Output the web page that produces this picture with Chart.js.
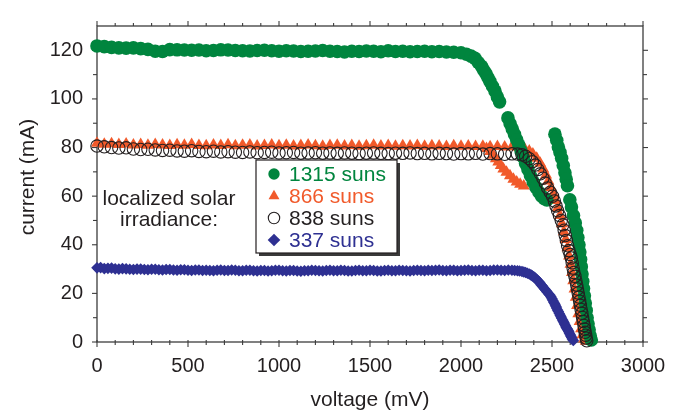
<!DOCTYPE html>
<html>
<head>
<meta charset="utf-8">
<script src="https://cdn.jsdelivr.net/npm/chart.js@4/dist/chart.umd.min.js"></script>
<style>
  html, body { margin: 0; padding: 0; background: #fff; }
  #wrap { width: 681px; height: 414px; }
</style>
</head>
<body>
<div id="wrap"><canvas id="chart" width="681" height="414"></canvas></div>
<script>
const ctx = document.getElementById('chart').getContext('2d');

// tick labels
const voltageTicks = [0, 500, 1000, 1500, 2000, 2500, 3000];
const currentTicks = [0, 20, 40, 60, 80, 100, 120];

// [voltage mV, current mA]
const suns1315 = [
  [0,121.8],[40,121.5],[80,121.2],[120,121.0],[160,120.9],[200,121.0],[240,120.7],[280,120.4],[320,119.6],[360,119.5],
  [400,120.3],[440,120.2],[480,120.1],[520,120.0],[560,120.1],[600,119.8],[640,119.9],[680,120.2],[720,120.1],[760,119.9],
  [800,119.8],[840,119.7],[880,119.9],[920,120.0],[960,119.8],[1000,119.6],[1040,119.8],[1080,119.7],[1120,119.5],[1160,119.6],
  [1200,119.7],[1240,119.9],[1280,119.6],[1320,119.5],[1360,119.3],[1400,119.6],[1440,119.5],[1480,119.7],[1520,119.6],[1560,119.4],
  [1600,119.8],[1640,119.5],[1680,119.6],[1720,119.4],[1760,119.5],[1800,119.6],[1840,119.4],[1880,119.5],[1920,119.3],[1960,119.2],
  [2000,119.0],[2030,118.4],[2055,117.6],[2077,116.7],[2095,115.0],[2113,113.4],[2125,111.8],[2137,110.4],[2148,108.8],[2159,107.2],
  [2173,105.2],[2187,103.2],[2200,100.8],[2212,98.8],[2258,92.2],[2270,89.8],[2282,87.6],[2294,85.4],[2306,83.2],[2318,81.0],
  [2330,78.6],[2342,76.0],[2355,73.4],[2368,71.0],[2382,68.4],[2397,65.8],[2412,63.6],[2428,61.6],[2443,60.0],[2458,59.0],
  [2472,58.4],[2516,85.5],[2526,83.0],[2535,80.2],[2544,78.0],[2553,75.6],[2562,72.6],[2571,69.6],[2578,67.0],[2585,64.3],
  [2598,58.5],[2607,55.5],[2618,52.0],[2628,49.0],[2636,46.0],[2642,43.0],[2648,40.0],[2653,37.0],[2657,34.0],[2661,31.0],
  [2665,28.0],[2669,25.0],[2673,22.0],[2678,19.0],[2683,16.0],[2688,13.0],[2693,10.0],[2698,7.5],[2704,5.0],[2710,2.5],[2716,0.8]
];

const suns866 = [
  [0,81.8],[40,81.4],[80,81.6],[120,81.2],[160,81.5],[200,81.0],[240,81.3],[280,80.9],[320,81.2],[360,81.0],
  [400,80.8],[440,81.1],[480,80.9],[520,81.2],[560,80.8],[600,80.7],[640,81.0],[680,80.8],[720,81.1],[760,80.7],
  [800,80.9],[840,81.0],[880,80.6],[920,80.8],[960,81.0],[1000,80.7],[1040,80.9],[1080,80.6],[1120,80.8],[1160,81.0],
  [1200,80.7],[1240,80.5],[1280,80.8],[1320,80.9],[1360,80.6],[1400,80.8],[1440,80.5],[1480,80.7],[1520,80.9],[1560,80.6],
  [1600,80.8],[1640,80.5],[1680,80.7],[1720,80.6],[1760,80.8],[1800,80.5],[1840,80.7],[1880,80.6],[1920,80.4],[1960,80.7],
  [2000,80.5],[2040,80.6],[2080,80.4],[2120,80.5],[2160,80.3],[2200,80.4],[2240,80.2],[2280,80.3],
  [2140,79.6],[2160,78.4],[2178,76.8],[2192,75.4],[2205,74.0],[2219,72.6],[2233,71.2],[2250,69.8],[2269,68.4],[2288,67.0],
  [2306,65.8],[2325,64.9],[2345,64.2],
  [2320,80.0],[2350,79.4],[2375,78.6],[2395,77.3],[2416,75.6],[2435,73.5],[2452,71.2],[2467,68.7],[2480,66.2],[2494,63.6],
  [2507,61.0],[2520,58.2],[2532,55.2],[2544,52.0],[2555,48.6],[2565,45.4],[2575,42.2],[2585,38.8],[2594,35.4],[2602,32.0],
  [2610,28.6],[2617,25.2],[2624,21.8],[2631,18.4],[2638,15.0],[2645,11.6],[2652,8.4],[2660,5.4],[2668,3.0],[2677,1.2],[2686,0.3]
];

const suns838 = [
  [0,80.6],[40,80.3],[80,80.0],[120,79.8],[160,79.9],[200,79.4],[240,79.2],[280,79.3],[320,79.0],[360,78.8],
  [400,78.9],[440,78.6],[480,78.5],[520,78.7],[560,78.4],[600,78.3],[640,78.5],[680,78.2],[720,78.3],[760,78.1],
  [800,78.0],[840,78.2],[880,77.9],[920,78.0],[960,78.1],[1000,77.8],[1040,77.9],[1080,78.0],[1120,77.7],[1160,77.8],
  [1200,77.9],[1240,77.7],[1280,77.8],[1320,77.6],[1360,77.8],[1400,77.7],[1440,77.5],[1480,77.7],[1520,77.8],[1560,77.6],
  [1600,77.5],[1640,77.7],[1680,77.6],[1720,77.8],[1760,77.5],[1800,77.6],[1840,77.4],[1880,77.6],[1920,77.5],[1960,77.3],
  [2000,77.5],[2040,77.4],[2080,77.6],[2120,77.3],[2160,77.5],[2200,77.4],[2240,77.2],[2280,77.4],
  [2310,77.3],[2335,77.0],[2355,76.4],[2375,75.4],[2392,74.2],[2408,72.8],[2422,71.0],[2436,69.2],[2450,67.4],[2463,65.4],
  [2476,63.4],[2490,61.6],[2503,60.0],[2513,58.0],[2522,56.0],[2531,54.0],[2541,52.0],[2551,50.0],[2560,48.2],[2567,46.0],
  [2573,43.8],[2579,41.8],[2586,39.6],[2593,37.6],[2600,36.0],[2606,34.6],[2611,32.6],[2616,30.4],[2620,28.6],[2626,27.0],
  [2631,25.2],[2636,23.4],[2640,21.8],[2644,20.2],[2648,18.5],[2652,16.8],[2656,15.1],[2660,13.4],[2664,11.8],[2668,10.1],
  [2672,8.4],[2676,6.8],[2679,5.3],[2682,4.0],[2685,2.8],[2688,1.6],[2691,0.5]
];

const suns337 = [
  [0,30.5],[20,30.6],[40,30.2],[60,30.3],[80,30.4],[100,30.1],[120,30.0],[140,30.2],[160,30.1],[180,29.9],
  [200,29.8],[220,30.0],[240,30.0],[260,29.8],[280,29.7],[300,29.9],[320,29.9],[340,29.7],[360,29.6],[380,29.8],
  [400,29.8],[420,29.6],[440,29.5],[460,29.7],[480,29.7],[500,29.5],[520,29.4],[540,29.6],[560,29.6],[580,29.4],
  [600,29.5],[620,29.4],[640,29.3],[660,29.5],[680,29.6],[700,29.4],[720,29.4],[740,29.6],[760,29.5],[780,29.3],
  [800,29.3],[820,29.5],[840,29.5],[860,29.3],[880,29.2],[900,29.4],[920,29.4],[940,29.2],[960,29.3],[980,29.5],
  [1000,29.5],[1020,29.3],[1040,29.2],[1060,29.4],[1080,29.4],[1100,29.2],[1120,29.1],[1140,29.3],[1160,29.3],[1180,29.5],
  [1200,29.4],[1220,29.3],[1240,29.2],[1260,29.4],[1280,29.5],[1300,29.3],[1320,29.3],[1340,29.5],[1360,29.4],[1380,29.2],
  [1400,29.2],[1420,29.4],[1440,29.5],[1460,29.3],[1480,29.3],[1500,29.5],[1520,29.4],[1540,29.2],[1560,29.2],[1580,29.4],
  [1600,29.5],[1620,29.3],[1640,29.3],[1660,29.5],[1680,29.4],[1700,29.3],[1720,29.2],[1740,29.4],[1760,29.5],[1780,29.4],
  [1800,29.3],[1820,29.5],[1840,29.4],[1860,29.5],[1880,29.6],[1900,29.4],[1920,29.3],[1940,29.5],[1960,29.5],[1980,29.3],
  [2000,29.4],[2020,29.5],[2040,29.6],[2060,29.4],[2080,29.3],[2100,29.5],[2120,29.5],[2140,29.3],[2160,29.4],[2180,29.6],
  [2200,29.6],[2220,29.5],[2240,29.4],[2260,29.6],[2280,29.5],[2295,29.4],
  [2310,29.3],[2322,29.2],[2335,29.0],[2345,28.8],[2355,28.6],[2365,28.3],[2375,28.0],[2384,27.6],[2392,27.2],[2400,26.8],
  [2408,26.3],[2415,25.8],[2421,25.3],[2428,24.8],[2434,24.3],[2440,23.6],[2447,23.0],[2453,22.4],[2460,21.8],[2467,21.2],
  [2474,20.5],[2481,19.9],[2489,19.2],[2495,18.5],[2500,17.8],[2505,17.1],[2510,16.4],[2514,15.8],[2518,15.2],[2522,14.6],
  [2525,14.0],[2530,13.2],[2535,12.5],[2540,11.7],[2545,11.0],[2549,10.4],[2553,9.8],[2558,9.1],[2562,8.5],[2566,7.9],
  [2570,7.3],[2574,6.7],[2578,6.1],[2582,5.6],[2585,5.2],[2589,4.7],[2592,4.2],[2596,3.6],[2600,3.0],[2604,2.4],
  [2608,1.8],[2612,1.2],[2617,0.6]
];

const toPoints = (arr) => arr.map(([v, i]) => ({x: v, y: i}));

const GREEN = '#00853E';
const RED = '#F15A2B';
const BLACK = '#231F20';
const BLUE = '#2E3092';

const data = {
  datasets: [
    { label: '838 suns', data: toPoints(suns838), pointStyle: 'circle', pointRadius: 6.2,
      backgroundColor: 'rgba(0,0,0,0)', borderColor: BLACK, borderWidth: 1.1, order: 0, textColor: BLACK, legendRow: 2 },
    { label: '1315 suns', data: toPoints(suns1315), pointStyle: 'circle', pointRadius: 6.8,
      backgroundColor: GREEN, borderColor: GREEN, borderWidth: 0, order: 1, textColor: GREEN, legendRow: 0 },
    { label: '866 suns', data: toPoints(suns866), pointStyle: 'triangle', pointRadius: 7,
      backgroundColor: RED, borderColor: RED, borderWidth: 0, order: 2, textColor: RED, legendRow: 1 },
    { label: '337 suns', data: toPoints(suns337), pointStyle: 'rectRot', pointRadius: 5.8,
      backgroundColor: BLUE, borderColor: BLUE, borderWidth: 0, order: 3, textColor: BLUE, legendRow: 3 }
  ]
};

function tick(c, x1, y1, x2, y2) {
  c.beginPath(); c.moveTo(x1, y1); c.lineTo(x2, y2); c.stroke();
}

const framePlugin = {
  id: 'frame',
  beforeDatasetsDraw(chart) {
    const c = chart.ctx, a = chart.chartArea, xs = chart.scales.x, ys = chart.scales.y;
    c.save();
    c.strokeStyle = '#3c3c3c';
    c.lineWidth = 1.3;
    c.strokeRect(a.left, a.top, a.right - a.left, a.bottom - a.top);
    c.lineWidth = 1.1;
    for (let v = 0; v <= 3000; v += 100) {
      const px = xs.getPixelForValue(v);
      const len = v % 500 === 0 ? 5 : 3;
      tick(c, px, a.bottom - 2, px, a.bottom + len);
      tick(c, px, a.top, px, a.top - len);
    }
    for (let v = 0; v <= 120; v += 10) {
      const py = ys.getPixelForValue(v);
      const len = v % 20 === 0 ? 5 : 4;
      tick(c, a.left - len, py, a.left, py);
      tick(c, a.right, py, a.right + len, py);
    }
    c.restore();
  },
  afterDatasetsDraw(chart) {
    const c = chart.ctx, a = chart.chartArea;
    c.save();
    c.fillStyle = BLACK;
    c.font = '21px "Liberation Sans", Arial, sans-serif';
    // axis titles
    c.textAlign = 'center';
    c.textBaseline = 'middle';
    c.fillText('voltage (mV)', (a.left + a.right) / 2, 400);
    c.save();
    c.translate(28, 177);
    c.rotate(-Math.PI / 2);
    c.fillText('current (mA)', 0, 0);
    c.restore();
    // annotation
    c.textBaseline = 'alphabetic';
    c.fillText('localized solar', 169, 205);
    c.fillText('irradiance:', 169, 226);
    // legend box with shadow
    const bx = 256, by = 160, bw = 141, bh = 93;
    c.fillStyle = '#3a3a3a';
    c.fillRect(bx + 3, by + 3, bw, bh);
    c.fillStyle = '#fff';
    c.fillRect(bx, by, bw, bh);
    c.strokeStyle = BLACK;
    c.lineWidth = 1.2;
    c.strokeRect(bx, by, bw, bh);
    c.textAlign = 'left';
    c.textBaseline = 'middle';
    chart.data.datasets.forEach((ds) => {
      const y = 174 + ds.legendRow * 22;
      c.fillStyle = ds.backgroundColor;
      c.strokeStyle = ds.borderColor;
      c.lineWidth = ds.borderWidth || 0;
      Chart.helpers.drawPoint(c, {
        pointStyle: ds.pointStyle,
        radius: ds.pointStyle === 'circle' ? 5.7 : 6.3,
        rotation: 0,
        borderWidth: ds.borderWidth
      }, 274, y);
      c.fillStyle = ds.textColor;
      c.fillText(ds.label, 289, y + 1);
    });
    c.restore();
  }
};

Chart.defaults.font.family = '"Liberation Sans", Arial, sans-serif';
Chart.defaults.font.size = 20;
Chart.defaults.color = BLACK;

const myChart = new Chart(ctx, {
  type: 'scatter',
  data: data,
  options: {
    responsive: false,
    animation: false,
    devicePixelRatio: 1,
    layout: { padding: { top: 15, right: 38, left: 0, bottom: 0 } },
    datasets: { scatter: { clip: false } },
    plugins: {
      legend: { display: false },
      tooltip: { enabled: false }
    },
    scales: {
      x: {
        type: 'linear', min: 0, max: 3000,
        afterBuildTicks: (s) => { s.ticks = voltageTicks.map((v) => ({value: v})); },
        afterFit: (s) => { s.height = 72; },
        ticks: { padding: 12, maxRotation: 0, autoSkip: false, callback: (v) => String(v) },
        grid: { display: false, drawTicks: false },
        border: { display: false }
      },
      y: {
        type: 'linear', min: 0, max: 130,
        afterBuildTicks: (s) => { s.ticks = currentTicks.map((v) => ({value: v})); },
        afterFit: (s) => { s.width = 97; },
        ticks: { padding: 14, autoSkip: false, callback: (v) => String(v) },
        grid: { display: false, drawTicks: false },
        border: { display: false }
      }
    }
  },
  plugins: [framePlugin]
});
</script>
</body>
</html>
